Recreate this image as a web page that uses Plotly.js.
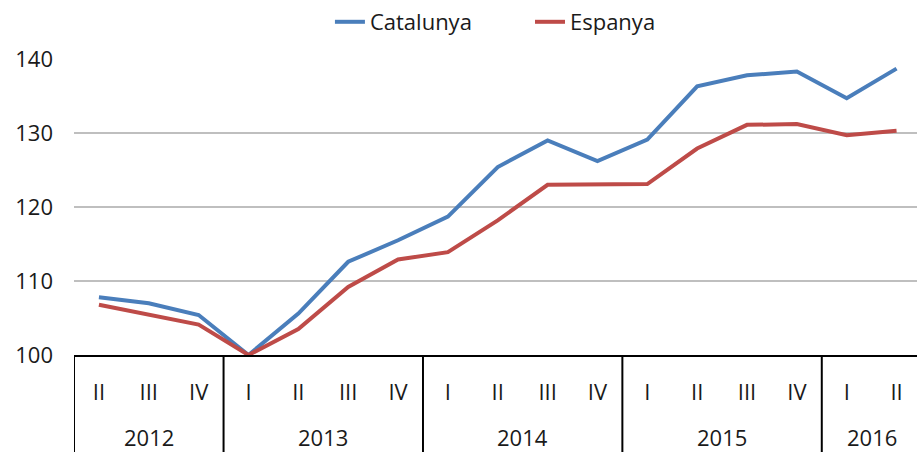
<!DOCTYPE html>
<html>
<head>
<meta charset="utf-8">
<script src="https://cdn.plot.ly/plotly-3.0.1.min.js"></script>
<style>html,body{margin:0;padding:0;background:#fff;}#chart{width:917px;height:452px;}</style>
</head>
<body>
<div id="chart"></div>
<script>
const quarters = ['II','III','IV','I','II','III','IV','I','II','III','IV','I','II','III','IV','I','II'];
const years = ['2012','2012','2012','2013','2013','2013','2013','2014','2014','2014','2014','2015','2015','2015','2015','2016','2016'];
const catalunya = [107.8,107.0,105.4,100.0,105.6,112.6,115.5,118.7,125.4,129.0,126.2,129.1,136.3,137.8,138.3,134.7,138.7];
const espanya   = [106.8,105.5,104.1,100.0,103.5,109.2,112.9,113.9,118.2,123.0,123.1,123.1,127.9,131.1,131.2,129.7,130.3];

const xi = quarters.map((_, i) => i);
const font = '"Open Sans", Lato, sans-serif';
const txt = '#1a1a1a';
const fs = 22;

// year groups
const groups = [];
years.forEach((y, i) => {
  const g = groups[groups.length - 1];
  if (g && g.year === y) g.end = i; else groups.push({year: y, start: i, end: i});
});

const bottomFrac = -97 / 296;
const shapes = [];
groups.forEach(g => {
  const xb = g.start - 0.5;
  shapes.push({type:'line', xref:'x', yref:'paper', x0:xb, x1:xb, y0:0, y1:bottomFrac,
    line:{color:'#000', width:2}});
});
const annotations = groups.map(g => ({
  xref:'x', yref:'paper', x:(g.start + g.end) / 2, y:0, yanchor:'middle', yshift:-82,
  text:g.year, showarrow:false, font:{family:font, size:fs, color:txt}
}));

const traces = [
  {x: xi, y: catalunya, name:'Catalunya', type:'scatter', mode:'lines', cliponaxis:false,
   line:{color:'#4a7ebb', width:4}, legend:'legend'},
  {x: xi, y: espanya, name:'Espanya', type:'scatter', mode:'lines', cliponaxis:false,
   line:{color:'#be4b48', width:4}, legend:'legend2'}
];

const legY = 1 + 37/296;
const layout = {
  width:917, height:452,
  margin:{l:74, r:0, t:59, b:97},
  paper_bgcolor:'#fff', plot_bgcolor:'#fff',
  font:{family:font, size:fs, color:txt},
  showlegend:true,
  legend:{orientation:'h', x:0.3036, xanchor:'left', y:legY, yanchor:'middle',
    font:{family:font, size:fs, color:txt}},
  legend2:{orientation:'h', x:0.5409, xanchor:'left', y:legY, yanchor:'middle',
    font:{family:font, size:fs, color:txt}},
  xaxis:{range:[-0.5, 16.41], tickvals:xi, ticktext:quarters, showgrid:false, zeroline:false,
    showline:true, linecolor:'#000', linewidth:2, ticks:'', ticklabelstandoff:17,
    tickfont:{family:font, size:fs, color:txt}, fixedrange:true},
  yaxis:{range:[100,140], dtick:10, tick0:100, showgrid:true, gridcolor:'#bfbfbf', gridwidth:1.5,
    zeroline:false, showline:false, ticks:'', ticklabelstandoff:20,
    tickfont:{family:font, size:fs, color:txt}, fixedrange:true},
  shapes:shapes,
  annotations:annotations
};

Plotly.newPlot('chart', traces, layout, {displayModeBar:false, staticPlot:true});
</script>
</body>
</html>
